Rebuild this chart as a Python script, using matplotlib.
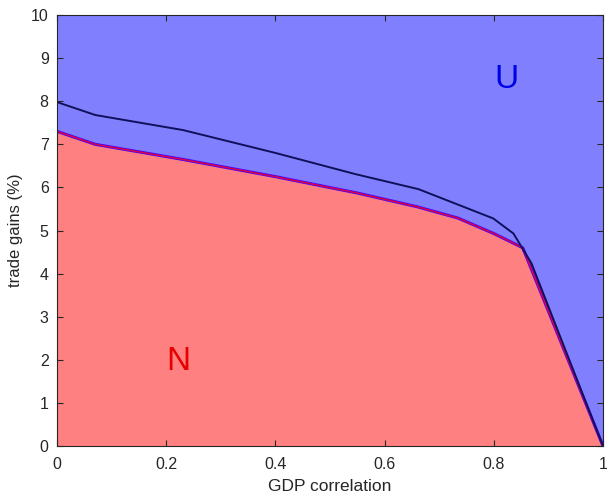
import numpy as np
import matplotlib
matplotlib.use("Agg")
import matplotlib.pyplot as plt

plt.rcParams['font.family'] = ['Liberation Sans', 'DejaVu Sans']

# boundary between N and U regions
corr_red = [0.0, 0.07, 0.23, 0.40, 0.55, 0.66, 0.734, 0.80, 0.853, 1.0]
gain_red = [7.30, 7.00, 6.65, 6.25, 5.87, 5.55, 5.29, 4.93, 4.60, 0.0]

# upper (black) curve
corr_blk = [0.0, 0.07, 0.231, 0.40, 0.546, 0.662, 0.799, 0.836, 0.869, 1.0]
gain_blk = [7.98, 7.68, 7.33, 6.80, 6.31, 5.96, 5.28, 4.93, 4.24, 0.0]

fig = plt.figure(figsize=(6.07, 4.97), dpi=100)
ax = fig.add_axes([0.0939, 0.1026, 0.8995, 0.8672])

xr = np.array(corr_red)
yr = np.array(gain_red)
ax.fill_between(xr, 0, yr, color='#ff8080', lw=0)
ax.fill_between(xr, yr, 10, color='#8080ff', lw=0)
ax.plot(xr, yr, color='#4b00ff', lw=2.2, solid_joinstyle='round')
ax.plot(xr, yr, color='#e0003c', lw=1.0, solid_joinstyle='round')
ax.plot(corr_blk, gain_blk, color='#10105a', lw=1.4)

ax.text(0.824, 8.5, 'U', color='#0000e6', fontsize=24, ha='center', va='center')
ax.text(0.223, 1.97, 'N', color='#e60000', fontsize=24, ha='center', va='center')

ax.set_xlim(0, 1)
ax.set_ylim(0, 10)
ax.set_xticks([0, 0.2, 0.4, 0.6, 0.8, 1])
ax.set_xticklabels(['0', '0.2', '0.4', '0.6', '0.8', '1'])
ax.set_yticks(range(0, 11))
ax.tick_params(direction='in', length=4, labelsize=11.5, colors='#262626',
               top=True, right=True)
ax.tick_params(axis='x', pad=8)
ax.tick_params(axis='y', pad=6)
for s in ax.spines.values():
    s.set_color('#262626')
    s.set_linewidth(0.8)
ax.set_xlabel('GDP correlation', fontsize=12.5, color='#262626', labelpad=5)
ax.set_ylabel('trade gains (%)', fontsize=12, color='#262626', labelpad=6)

fig.savefig('out.png', dpi=100)
